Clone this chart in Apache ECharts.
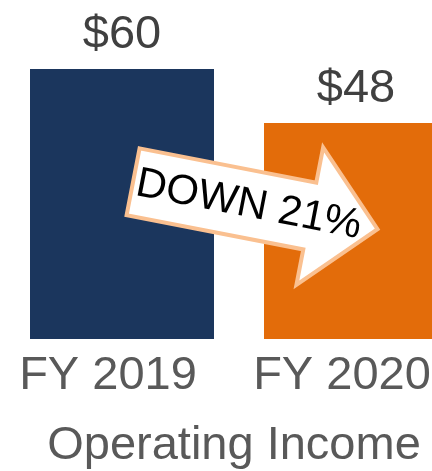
<!DOCTYPE html>
<html>
<head>
<meta charset="utf-8">
<script src="https://cdn.jsdelivr.net/npm/echarts@6/dist/echarts.min.js"></script>
<style>
  html, body { margin: 0; padding: 0; background: #fff; }
  #chart { width: 432px; height: 471px; }
</style>
</head>
<body>
<div id="chart"></div>
<script>
// data
var categories = ['FY 2019', 'FY 2020'];
var income = [60, 48];
var barColors = ['#1b365d', '#e36c0a'];
var axisTitle = 'Operating Income';
var changeText = 'DOWN 21%';

var myChart = echarts.init(document.getElementById('chart'));

var deg = Math.PI / 180;

myChart.setOption({
  animation: false,
  grid: { left: 5, width: 468, top: 69, bottom: 132, outerBoundsMode: 'none', containLabel: false },
  xAxis: {
    type: 'category',
    data: categories,
    axisLine: { show: false },
    axisTick: { show: false },
    axisLabel: {
      interval: 0,
      hideOverlap: false,
      margin: 14,
      fontFamily: 'Liberation Sans',
      fontSize: 47,
      color: '#595959',
      padding: [0, 28, 0, 0]
    },
    name: axisTitle,
    nameLocation: 'middle',
    nameGap: 84,
    nameTextStyle: {
      fontFamily: 'Liberation Sans',
      fontSize: 47,
      color: '#595959',
      padding: [0, 10, 0, 0]
    }
  },
  yAxis: {
    type: 'value',
    min: 0,
    max: 60,
    show: false
  },
  series: [{
    type: 'bar',
    barWidth: 184,
    data: income.map(function (v, i) {
      return { value: v, itemStyle: { color: barColors[i] } };
    }),
    label: {
      show: true,
      position: 'top',
      distance: 10,
      formatter: '${c}',
      fontFamily: 'Liberation Sans',
      fontSize: 47,
      color: '#404040'
    }
  }],
  // the "DOWN 21%" arrow callout
  graphic: [{
    type: 'group',
    x: 138,
    y: 146,
    z: 100,
    rotation: -11 * deg,
    children: [{
      type: 'polygon',
      z: 100,
      shape: {
        points: [[2, 2], [182, 2], [182, -34], [251, 36], [182, 106], [182, 70], [2, 70]]
      },
      style: { fill: '#ffffff', stroke: '#fac090', lineWidth: 4 }
    }, {
      type: 'text',
      z: 101,
      x: 120,
      y: 37,
      style: {
        text: changeText,
        fontFamily: 'Liberation Sans',
        fontSize: 42,
        fill: '#000000',
        align: 'center',
        verticalAlign: 'middle'
      }
    }]
  }]
});
</script>
</body>
</html>
